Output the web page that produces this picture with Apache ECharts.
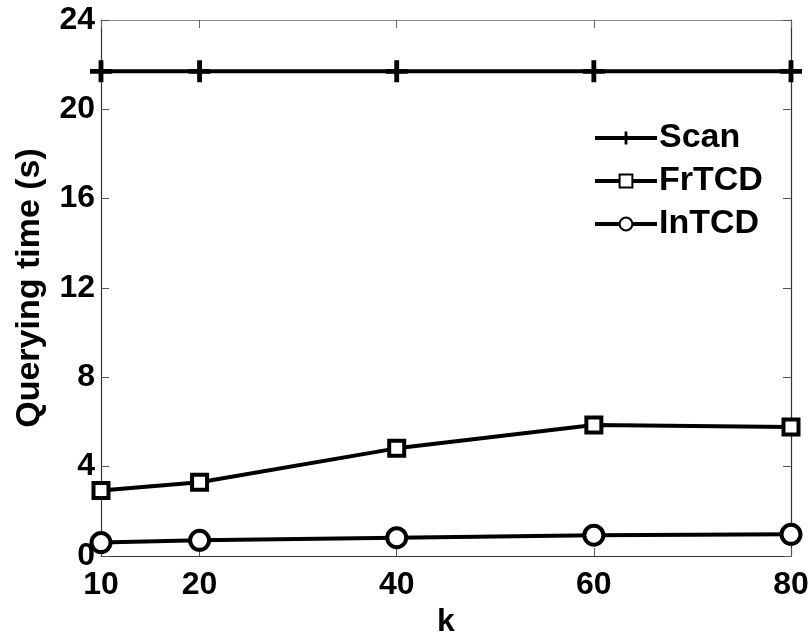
<!DOCTYPE html>
<html>
<head>
<meta charset="utf-8">
<script src="https://cdn.jsdelivr.net/npm/echarts@6/dist/echarts.min.js"></script>
<style>html,body{margin:0;padding:0;background:#fff;}#c{width:811px;height:632px;}</style>
</head>
<body>
<div id="c"></div>
<script>
const kValues = [10, 20, 40, 60, 80];
const scanTime = [21.7, 21.7, 21.7, 21.7, 21.7];
const frtcdTime = [2.93, 3.3, 4.82, 5.87, 5.78];
const intcdTime = [0.6, 0.7, 0.82, 0.93, 0.97];
const yTicks = [0, 4, 8, 12, 16, 20, 24];
const xTickLabels = [10, 20, 40, 60, 80];

const FONT = '"Liberation Sans", Arial, Helvetica, sans-serif';
const plusPath = 'path://M3.9,0 H6.1 V3.9 H10 V6.1 H6.1 V10 H3.9 V6.1 H0 V3.9 H3.9 Z';

function pairs(ys) { return kValues.map((k, i) => [k, ys[i]]); }

const chart = echarts.init(document.getElementById('c'), null, {renderer: 'canvas'});
const axisLineStyle = {color: '#333', width: 1.2};
chart.setOption({
  animation: false,
  backgroundColor: '#fff',
  grid: {left: 101, right: 20, top: 20, bottom: 76, containLabel: false, outerBoundsMode: 'none'},
  legend: {
    left: 588, top: 116, orient: 'vertical',
    itemWidth: 62, itemHeight: 16, itemGap: 9,
    lineStyle: {width: 4, color: '#000'},
    textStyle: {fontFamily: FONT, fontWeight: 'bold', fontSize: 34, color: '#000', padding: [0, 0, 0, -3]},
    data: ['Scan', 'FrTCD', 'InTCD']
  },
  xAxis: [{
    type: 'value', min: 10, max: 80,
    name: 'k', nameLocation: 'middle', nameGap: 46,
    nameTextStyle: {fontFamily: FONT, fontWeight: 'bold', fontSize: 32, color: '#000'},
    axisLine: {show: true, lineStyle: axisLineStyle},
    axisTick: {show: true, inside: true, length: 8, customValues: xTickLabels, lineStyle: {color: '#555'}},
    axisLabel: {customValues: xTickLabels, margin: 13, fontFamily: FONT, fontWeight: 'bold', fontSize: 32, color: '#000'},
    splitLine: {show: false}
  }, {
    type: 'value', min: 10, max: 80, position: 'top',
    axisLine: {show: true, onZero: false, lineStyle: {color: '#888', width: 1.2}},
    axisTick: {show: true, inside: true, length: 8, customValues: xTickLabels, lineStyle: {color: '#666'}},
    axisLabel: {show: false},
    splitLine: {show: false}
  }],
  yAxis: [{
    type: 'value', min: 0, max: 24, interval: 4,
    name: 'Querying time (s)', nameLocation: 'middle', nameGap: 54,
    nameTextStyle: {fontFamily: FONT, fontWeight: 'bold', fontSize: 34, color: '#000'},
    axisLine: {show: true, lineStyle: axisLineStyle},
    axisTick: {show: true, inside: true, length: 8, lineStyle: {color: '#555'}},
    axisLabel: {margin: 6, fontFamily: FONT, fontWeight: 'bold', fontSize: 32, color: '#000', padding: [15, 0, 0, 0],
      formatter: v => yTicks.includes(v) ? String(v) : ''},
    splitLine: {show: false}
  }, {
    type: 'value', min: 0, max: 24, interval: 4, position: 'right',
    axisLine: {show: true, onZero: false, lineStyle: axisLineStyle},
    axisTick: {show: true, inside: true, length: 8, lineStyle: {color: '#555'}},
    axisLabel: {show: false},
    splitLine: {show: false}
  }],
  series: [{
    name: 'Scan', type: 'line', data: pairs(scanTime),
    symbol: plusPath, symbolSize: 22, clip: false,
    lineStyle: {color: '#000', width: 4},
    itemStyle: {color: '#000', borderWidth: 0}
  }, {
    name: 'FrTCD', type: 'line', data: pairs(frtcdTime),
    symbol: 'rect', symbolSize: 15, clip: false,
    lineStyle: {color: '#000', width: 4},
    itemStyle: {color: '#fff', borderColor: '#000', borderWidth: 4}
  }, {
    name: 'InTCD', type: 'line', data: pairs(intcdTime),
    symbol: 'circle', symbolSize: 19, clip: false,
    lineStyle: {color: '#000', width: 4},
    itemStyle: {color: '#fff', borderColor: '#000', borderWidth: 4}
  }]
});
</script>
</body>
</html>
